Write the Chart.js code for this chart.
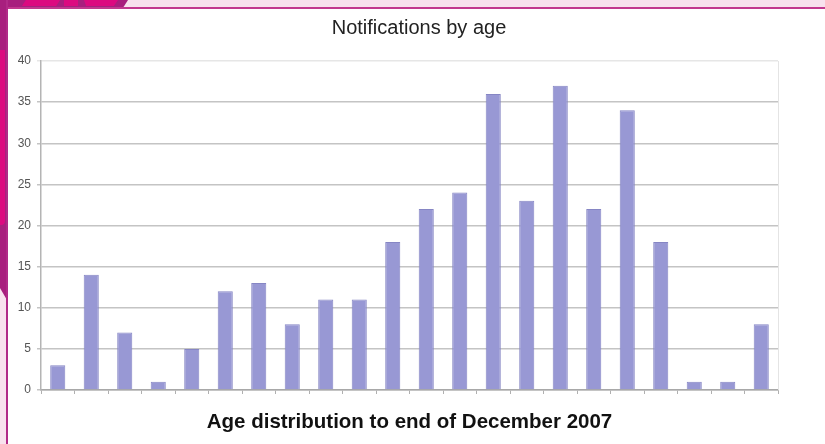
<!DOCTYPE html>
<html>
<head>
<meta charset="utf-8">
<script src="https://cdn.jsdelivr.net/npm/chart.js@4.4.0/dist/chart.umd.min.js"></script>
<style>
  html, body { margin: 0; padding: 0; background: #ffffff; }
  #wrap { position: relative; width: 825px; height: 444px; overflow: hidden; }
  #chart { position: absolute; left: 0; top: 0; }
  .deco { position: absolute; }
</style>
</head>
<body>
<div id="wrap">
  <canvas id="chart" width="825" height="444"></canvas>
  <!-- page frame from the scanned document -->
  <div class="deco" style="left:0;top:0;width:825px;height:8px;background:#f8e2ee"></div>
  <div class="deco" style="left:0;top:0;width:128px;height:8px;background:#a81f7e;clip-path:polygon(0 0,100% 0,96% 100%,0 100%)"></div>
  <div class="deco" style="left:22px;top:0;width:38px;height:6px;background:#dc0a80;clip-path:polygon(10% 0,100% 0,90% 100%,0 100%)"></div>
  <div class="deco" style="left:64px;top:0;width:14px;height:6px;background:#dc0a80"></div>
  <div class="deco" style="left:84px;top:0;width:34px;height:6px;background:#dc0a80;clip-path:polygon(0 0,100% 0,88% 100%,6% 100%)"></div>
  <div class="deco" style="left:0;top:7px;width:825px;height:2px;background:#c2398f"></div>
  <div class="deco" style="left:0;top:0;width:7px;height:444px;background:#f8e2ee"></div>
  <div class="deco" style="left:0;top:0;width:7px;height:300px;background:#a81f7e;clip-path:polygon(0 0,100% 0,100% 100%,0 96%)"></div>
  <div class="deco" style="left:0;top:50px;width:5px;height:175px;background:#dc0a80;border-radius:0 0 4px 0"></div>
  <div class="deco" style="left:6px;top:0;width:2px;height:444px;background:#b12a88"></div>
</div>
<script>
// chart data
const ageGroups = ['0-4', '5-9', '10-14', '15-19', '20-24', '25-29', '30-34', '35-39', '40-44', '45-49', '50-54',
                   '55-59', '60-64', '65-69', '70-74', '75-79', '80-84', '85-89', '90-94', '95-99', '100-104', '105+'];
const notifications = [3, 14, 7, 1, 5, 12, 13, 8, 11, 11, 18, 22, 24, 36, 23, 37, 22, 34, 18, 1, 1, 8];
const yTicks = [0, 5, 10, 15, 20, 25, 30, 35, 40];

const chartTitle = 'Notifications by age';
const axisTitle = 'Age distribution to end of December 2007';

// title sits a bit right of the canvas centre in the original, so draw it ourselves
const topTitle = {
    id: 'topTitle',
    afterDraw(chart) {
        const c = chart.ctx;
        c.save();
        c.fillStyle = '#222222';
        c.font = 'normal 20px Arial, "Liberation Sans", sans-serif';
        c.textAlign = 'center';
        c.textBaseline = 'alphabetic';
        c.fillText(chartTitle, 419, 34);
        c.restore();
    }
};

// faint right edge of the plot box
const plotBorder = {
    id: 'plotBorder',
    afterDraw(chart) {
        const a = chart.chartArea;
        const c = chart.ctx;
        c.save();
        c.strokeStyle = '#e4e4e4';
        c.lineWidth = 1;
        c.beginPath();
        c.moveTo(a.right + 0.5, a.top);
        c.lineTo(a.right + 0.5, a.bottom);
        c.stroke();
        c.restore();
    }
};

const ctx = document.getElementById('chart').getContext('2d');
new Chart(ctx, {
    type: 'bar',
    data: {
        labels: ageGroups,
        datasets: [{
            label: 'Notifications',
            data: notifications,
            backgroundColor: '#9898d4',
            borderColor: '#8686c4',
            borderWidth: 1,
            barPercentage: 0.9,
            categoryPercentage: 0.5
        }]
    },
    options: {
        responsive: false,
        animation: false,
        layout: { padding: { left: 0, right: 47, top: 61, bottom: 0 } },
        plugins: {
            legend: { display: false },
            tooltip: { enabled: false },
            title: { display: false }
        },
        scales: {
            x: {
                offset: true,
                grid: { display: true, drawOnChartArea: false, offset: true, tickLength: 4, color: '#b0b0b0', lineWidth: 1 },
                border: { color: '#a8a8a8', width: 1.5 },
                ticks: { display: false },
                title: {
                    display: true,
                    text: axisTitle,
                    color: '#111111',
                    font: { family: 'Arial, "Liberation Sans", sans-serif', size: 20.5, weight: 'bold' },
                    padding: { top: 16, bottom: 9 }
                },
                afterFit(scale) { scale.height = 54; }
            },
            y: {
                min: 0,
                max: 40,
                afterBuildTicks(scale) { scale.ticks = yTicks.map(v => ({ value: v })); },
                grid: {
                    color: ctx => ctx.tick && ctx.tick.value === 40 ? '#e6e6e6' : '#c4c4c4',
                    lineWidth: 1.5,
                    tickLength: 4
                },
                border: { color: '#b4b4b4', width: 1.5 },
                ticks: {
                    color: '#555555',
                    padding: 6,
                    font: { family: 'Arial, "Liberation Sans", sans-serif', size: 12 }
                },
                afterFit(scale) { scale.width = 41; }
            }
        }
    },
    plugins: [topTitle, plotBorder]
});
</script>
</body>
</html>
